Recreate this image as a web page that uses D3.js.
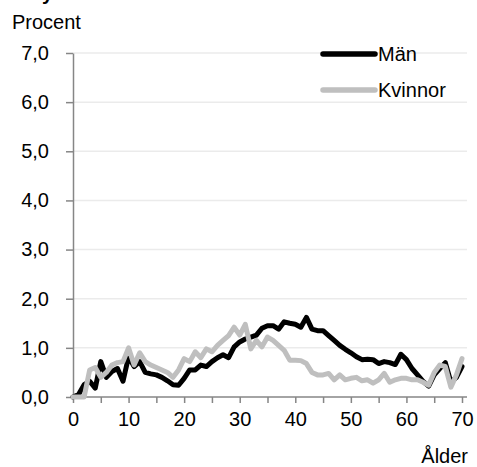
<!DOCTYPE html>
<html>
<head>
<meta charset="utf-8">
<script src="https://cdn.jsdelivr.net/npm/d3@7"></script>
<style>
  html, body { margin: 0; padding: 0; background: #fff; }
  svg { display: block; }
  text { font-family: "Liberation Sans", Arial, sans-serif; fill: #000; }
</style>
</head>
<body>
<svg id="chart" width="477" height="467"></svg>
<script>
// Ålder 0..70
const ages = d3.range(0, 71);

const man = [
  0.00, 0.05, 0.25, 0.32, 0.18, 0.72, 0.40, 0.52, 0.58, 0.32,
  0.82, 0.62, 0.72, 0.50, 0.47, 0.45, 0.40, 0.33, 0.25, 0.24,
  0.38, 0.55, 0.55, 0.65, 0.62, 0.72, 0.80, 0.86, 0.80, 1.02,
  1.12, 1.18, 1.22, 1.26, 1.40, 1.45, 1.45, 1.38, 1.53, 1.50,
  1.48, 1.42, 1.62, 1.38, 1.35, 1.35, 1.25, 1.15, 1.05, 0.97,
  0.90, 0.82, 0.76, 0.77, 0.76, 0.68, 0.72, 0.70, 0.66, 0.87,
  0.76, 0.58, 0.45, 0.32, 0.22, 0.45, 0.58, 0.70, 0.30, 0.40,
  0.62
];

const kvinnor = [
  0.00, 0.00, 0.00, 0.55, 0.60, 0.40, 0.50, 0.65, 0.70, 0.72,
  1.00, 0.65, 0.90, 0.72, 0.65, 0.60, 0.55, 0.50, 0.40, 0.55,
  0.78, 0.72, 0.92, 0.80, 0.98, 0.92, 1.05, 1.15, 1.25, 1.42,
  1.26, 1.48, 0.98, 1.15, 1.02, 1.22, 1.15, 1.05, 0.95, 0.75,
  0.75, 0.74, 0.68, 0.50, 0.45, 0.45, 0.48, 0.35, 0.45, 0.35,
  0.38, 0.40, 0.33, 0.35, 0.28, 0.35, 0.48, 0.30, 0.35, 0.38,
  0.38, 0.35, 0.35, 0.30, 0.24, 0.50, 0.65, 0.62, 0.20, 0.45,
  0.78
];

const yTicks = [0, 1, 2, 3, 4, 5, 6, 7];
const xTicks = [0, 10, 20, 30, 40, 50, 60, 70];
const xMinorTicks = d3.range(0, 71, 5);

const series = [
  { name: 'Män', values: man, color: '#000000' },
  { name: 'Kvinnor', values: kvinnor, color: '#bfbfbf' },
];

const svg = d3.select('#chart');
const axisColor = '#868686';
const fontSize = 20;

const x = d3.scaleLinear().domain([0, 70]).range([73, 462]);
const y = d3.scaleLinear().domain([0, 7]).range([397, 53]);
const plotRight = 467;

// cut-off title remnant at the very top
svg.append('text')
  .attr('x', 42).attr('y', 0)
  .attr('font-size', 20).attr('font-weight', 'bold')
  .text('y');

// y title
svg.append('text')
  .attr('x', 12).attr('y', 29)
  .attr('font-size', fontSize)
  .text('Procent');

// gridlines
svg.append('g')
  .selectAll('line').data(yTicks.filter((d) => d > 0)).enter().append('line')
  .attr('x1', x(0)).attr('x2', plotRight)
  .attr('y1', (d) => y(d)).attr('y2', (d) => y(d))
  .attr('stroke', '#ebebeb').attr('stroke-width', 1.5);

// y axis
const fmt = (d) => d.toFixed(1).replace('.', ',');
const yAxis = svg.append('g')
  .attr('transform', `translate(${x(0)},0)`)
  .call(d3.axisLeft(y).tickValues(yTicks).tickSize(7).tickSizeOuter(0).tickPadding(17).tickFormat(fmt));
yAxis.select('.domain').attr('stroke', axisColor).attr('stroke-width', 1.5);
yAxis.selectAll('.tick line').attr('stroke', axisColor).attr('stroke-width', 1.5);
yAxis.selectAll('.tick text')
  .attr('font-size', fontSize).attr('font-family', '"Liberation Sans", Arial, sans-serif')
  .attr('fill', '#000');

// x axis
const xAxis = svg.append('g')
  .attr('transform', `translate(0,${y(0)})`)
  .call(d3.axisBottom(x).tickValues(xMinorTicks).tickSize(6).tickSizeOuter(0).tickPadding(9)
    .tickFormat((d) => (xTicks.includes(d) ? d : '')));
xAxis.select('.domain').attr('stroke', axisColor).attr('stroke-width', 1.5)
  .attr('d', `M${x(0)},0H${plotRight}`);
xAxis.selectAll('.tick line').attr('stroke', axisColor).attr('stroke-width', 1.5);
xAxis.selectAll('.tick text')
  .attr('font-size', fontSize).attr('font-family', '"Liberation Sans", Arial, sans-serif')
  .attr('fill', '#000');

// x title
svg.append('text')
  .attr('x', 468).attr('y', 463)
  .attr('text-anchor', 'end')
  .attr('font-size', fontSize)
  .text('Ålder');

// lines
const line = d3.line()
  .x((d, i) => x(ages[i]))
  .y((d) => y(d));

for (const s of series) {
  svg.append('path')
    .datum(s.values)
    .attr('fill', 'none')
    .attr('stroke', s.color)
    .attr('stroke-width', 5)
    .attr('stroke-linejoin', 'round')
    .attr('stroke-linecap', 'round')
    .attr('d', line);
}

// legend
const legend = svg.append('g');
series.forEach((s, i) => {
  const ly = 54 + i * 36;
  legend.append('line')
    .attr('x1', 323).attr('x2', 375)
    .attr('y1', ly).attr('y2', ly)
    .attr('stroke', s.color).attr('stroke-width', 5.5)
    .attr('stroke-linecap', 'round');
  legend.append('text')
    .attr('x', 378).attr('y', ly)
    .attr('dy', '0.35em')
    .attr('font-size', fontSize)
    .text(s.name);
});
</script>
</body>
</html>
